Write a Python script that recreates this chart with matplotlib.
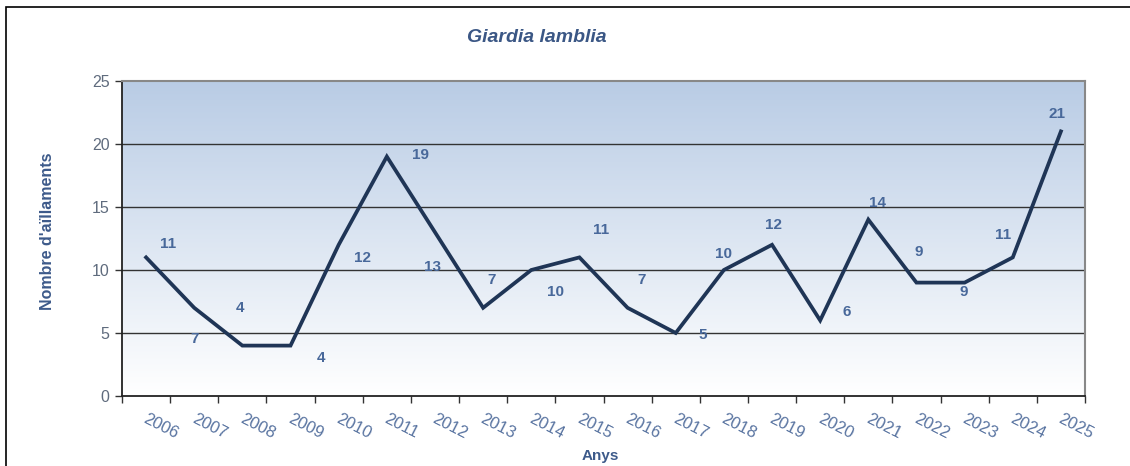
import numpy as np
import matplotlib
matplotlib.use("Agg")
import matplotlib.pyplot as plt
from matplotlib.colors import LinearSegmentedColormap
from matplotlib.patches import Rectangle

years = ["2006", "2007", "2008", "2009", "2010", "2011", "2012", "2013", "2014", "2015",
         "2016", "2017", "2018", "2019", "2020", "2021", "2022", "2023", "2024", "2025"]
values = [11, 7, 4, 4, 12, 19, 13, 7, 10, 11, 7, 5, 10, 12, 6, 14, 9, 9, 11, 21]
yticks = [0, 5, 10, 15, 20, 25]
title = "Giardia lamblia"
ylabel = "Nombre d'aïllaments"
xlabel = "Anys"

# label offsets in pixels (dx right, dy up)
label_offsets = [(22, 13), (0, -31), (-2, 38), (30, -12), (24, -13), (34, 2), (-2, -35),
                 (8, 28), (24, -22), (22, 27), (14, 28), (27, -2), (0, 16), (1, 20),
                 (27, 8), (9, 17), (2, 31), (-1, -9), (-10, 22), (-4, 17)]

plt.rcParams['font.family'] = ['Liberation Sans', 'DejaVu Sans']

W, H = 1130, 466
fig = plt.figure(figsize=(W / 100, H / 100), dpi=100)
fig.patch.set_facecolor('white')
# outer frame (top and left visible)
fig.add_artist(Rectangle((6 / W, -0.1), 1.2, 1 - 7 / H + 0.1, transform=fig.transFigure,
                         fill=False, edgecolor='black', linewidth=1.2))

ax = fig.add_axes([122 / W, 1 - 396 / H, (1085 - 122) / W, (396 - 81) / H])
x = np.arange(len(values))
ax.set_xlim(-0.5, len(values) - 0.5)
ax.set_ylim(0, 25)

# gradient background
cmap = LinearSegmentedColormap.from_list('bg', ['#ffffff', '#b9cce5'])
grad = np.linspace(0, 1, 256).reshape(-1, 1)
ax.imshow(grad, extent=(-0.5, len(values) - 0.5, 0, 25), origin='lower', aspect='auto',
          cmap=cmap, zorder=0)

for yv in yticks[1:-1]:
    ax.axhline(yv, color='#333333', linewidth=1.0, zorder=1)

ax.plot(x, values, color='#1f3556', linewidth=2.7, zorder=3, solid_joinstyle='miter')

for xi, v, (dx, dy) in zip(x, values, label_offsets):
    ax.annotate(str(v), (xi, v), xytext=(dx, dy), textcoords='offset pixels',
                ha='center', va='center', fontsize=11, fontweight='bold', color='#48689a',
                zorder=4)

ax.set_yticks(yticks)
ax.set_yticklabels([str(t) for t in yticks], fontsize=11.5, color='#5f6b7d')
ax.tick_params(axis='y', direction='out', length=5, width=1, color='#333333', pad=4)

ax.set_xticks(np.arange(-0.5, len(values), 1.0), minor=True)
ax.tick_params(axis='x', which='minor', direction='out', length=5, width=1, color='#333333')
ax.set_xticks(x + 0.04)
ax.set_xticklabels(years, rotation=-27, ha='left', va='top', rotation_mode='anchor',
                   fontsize=12, color='#5873a0')
ax.tick_params(axis='x', which='major', length=0, pad=11)

for side in ['left', 'bottom']:
    ax.spines[side].set_color('#222222')
    ax.spines[side].set_linewidth(1.3)
for side in ['top', 'right']:
    ax.spines[side].set_color('#888888')
    ax.spines[side].set_linewidth(1.5)

fig.text(48 / W, 1 - 231 / H, ylabel, rotation=90, ha='center', va='center', fontsize=11.5,
         fontweight='bold', color='#3d5a8a')
fig.text(600 / W, 1 - 456 / H, xlabel, ha='center', va='center', fontsize=11,
         fontweight='bold', color='#3d5a8a')

fig.text(537 / W, 1 - 38 / H, title, ha='center', va='center', fontsize=14,
         fontweight='bold', fontstyle='italic', color='#3b5785')

fig.savefig('out.png', dpi=100)
